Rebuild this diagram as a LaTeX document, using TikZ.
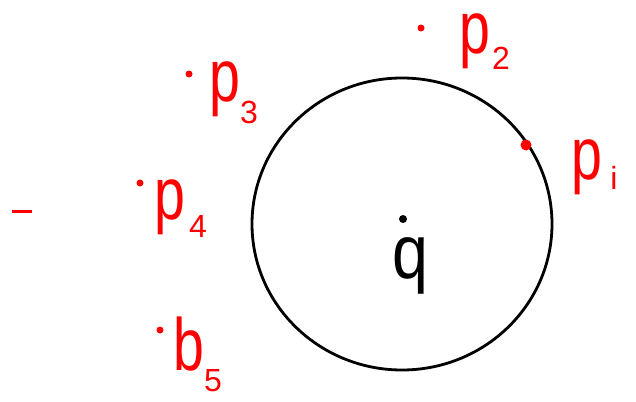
\documentclass[tikz,border=0pt]{standalone}
\usepackage{fontspec}
\setmainfont{Liberation Sans}
\begin{document}
\begin{tikzpicture}[x=1pt,y=-1pt,
  lbl/.style={text=red,font=\fontsize{74}{74}\selectfont,inner sep=0pt,xscale=0.75},
  sub/.style={text=red,font=\fontsize{32}{32}\selectfont,inner sep=0pt},
  rdot/.style={fill=red,circle,inner sep=0pt,minimum size=7pt},
]
\useasboundingbox (0,0) rectangle (636,401);
% circle
\draw[line width=2.8pt,black] (402,224) ellipse [x radius=150, y radius=146];
% center q
\node[fill=black,circle,inner sep=0pt,minimum size=8pt] (qd) at (403,219) {};
\node[inner sep=0pt,font=\fontsize{76}{76}\selectfont,xscale=0.85] (q) at (410,266) {q};
% points
\node[rdot,minimum size=11pt] (d1) at (526,145) {};
\node[rdot] (d2) at (421,28) {};
\node[rdot] (d3) at (189,74) {};
\node[rdot] (d4) at (140,183) {};
\node[rdot] (d5) at (160,330) {};
% labels
\node[lbl] (p1) at (587,167) {p};
\node[sub] (s1) at (614,178) {i};
\node[lbl] (p2) at (475,41) {p};
\node[sub] (s2) at (501,58) {2};
\node[lbl] (p3) at (225,89) {p};
\node[sub] (s3) at (249,112) {3};
\node[lbl] (p4) at (170,207) {p};
\node[sub] (s4) at (198,226) {4};
\node[lbl] (p5) at (189,344) {b};
\node[sub] (s5) at (213,381) {5};
% red dash
\draw[red,line width=3pt] (12,211) -- (32,211);
\end{tikzpicture}
\end{document}
